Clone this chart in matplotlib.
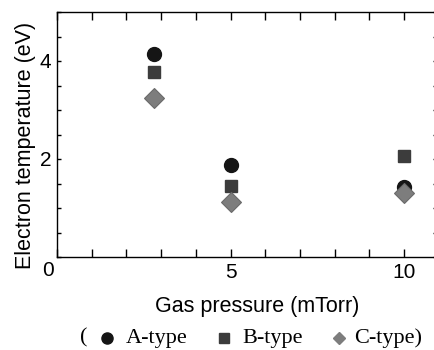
import matplotlib
matplotlib.use("Agg")
import matplotlib.pyplot as plt
from matplotlib.ticker import MultipleLocator, FixedLocator, FixedFormatter
from matplotlib.transforms import blended_transform_factory

pressure = [2.8, 5, 10]
a_type = [4.15, 1.88, 1.43]
b_type = [3.78, 1.44, 2.07]
c_type = [3.24, 1.13, 1.30]
x_ticklabels = ["5", "10"]
y_ticklabels = ["2", "4"]

sans = ["Liberation Sans", "DejaVu Sans"]
serif = ["Liberation Serif", "DejaVu Serif"]

fig = plt.figure(figsize=(4.34, 3.5), dpi=100)
ax = fig.add_axes([57/434, 93/350, 380/434, 245/350])

ax.plot(pressure, a_type, ls="none", marker="o", ms=10, color="#151515", mec="#151515", zorder=3)
ax.plot(pressure, b_type, ls="none", marker="s", ms=9.3, color="#3c3c3c", mec="#3c3c3c", zorder=3)
ax.plot(pressure, c_type, ls="none", marker="D", ms=9.8, color="#7d7d7d", mec="#6a6a6a", mew=0.8, zorder=4)

ax.set_xlim(0, 10.95)
ax.set_ylim(0, 5)
ax.spines["right"].set_visible(False)
for s in ["left", "bottom", "top"]:
    ax.spines[s].set_linewidth(1.0)

ax.xaxis.set_major_locator(FixedLocator([5, 10]))
ax.xaxis.set_major_formatter(FixedFormatter(x_ticklabels))
ax.xaxis.set_minor_locator(MultipleLocator(1))
ax.yaxis.set_major_locator(FixedLocator([2, 4]))
ax.yaxis.set_major_formatter(FixedFormatter(y_ticklabels))
ax.yaxis.set_minor_locator(MultipleLocator(0.5))

ax.tick_params(axis="x", which="both", direction="in", length=6, width=1, top=True, bottom=True,
               labelsize=15, pad=4)
ax.tick_params(axis="y", which="both", direction="in", length=3, width=1, left=True, right=True,
               labelsize=15, pad=4)
for lab in ax.get_xticklabels() + ax.get_yticklabels():
    lab.set_fontfamily(sans)

ax.text(-0.25, -0.015, "0", transform=blended_transform_factory(ax.transData, ax.transAxes),
        ha="center", va="top", fontsize=15, family=sans)

ax.set_xlabel("Gas pressure (mTorr)", fontsize=15.5, family=sans)
ax.xaxis.set_label_coords(0.526, -0.16)
ax.set_ylabel("Electron temperature (eV)", fontsize=15.5, family=sans)
ax.yaxis.set_label_coords(-0.055, 0.455)

# legend line
ly = 12/350
fig.text(80/434, ly, "(", fontsize=16, family=serif, ha="left", va="center")
fig.text(126/434, ly, "A-type", fontsize=16, family=serif, ha="left", va="center")
fig.text(242/434, ly, "B-type", fontsize=16, family=serif, ha="left", va="center")
fig.text(354/434, ly, "C-type)", fontsize=16, family=serif, ha="left", va="center")
fig.lines.append(plt.Line2D([107/434], [ly], transform=fig.transFigure, marker="o", ms=8,
                            color="#151515", ls="none"))
fig.lines.append(plt.Line2D([224/434], [ly], transform=fig.transFigure, marker="s", ms=7.3,
                            color="#3c3c3c", ls="none"))
fig.lines.append(plt.Line2D([339/434], [ly], transform=fig.transFigure, marker="D", ms=6.5,
                            color="#7d7d7d", ls="none"))

fig.savefig("out.png", dpi=100)
